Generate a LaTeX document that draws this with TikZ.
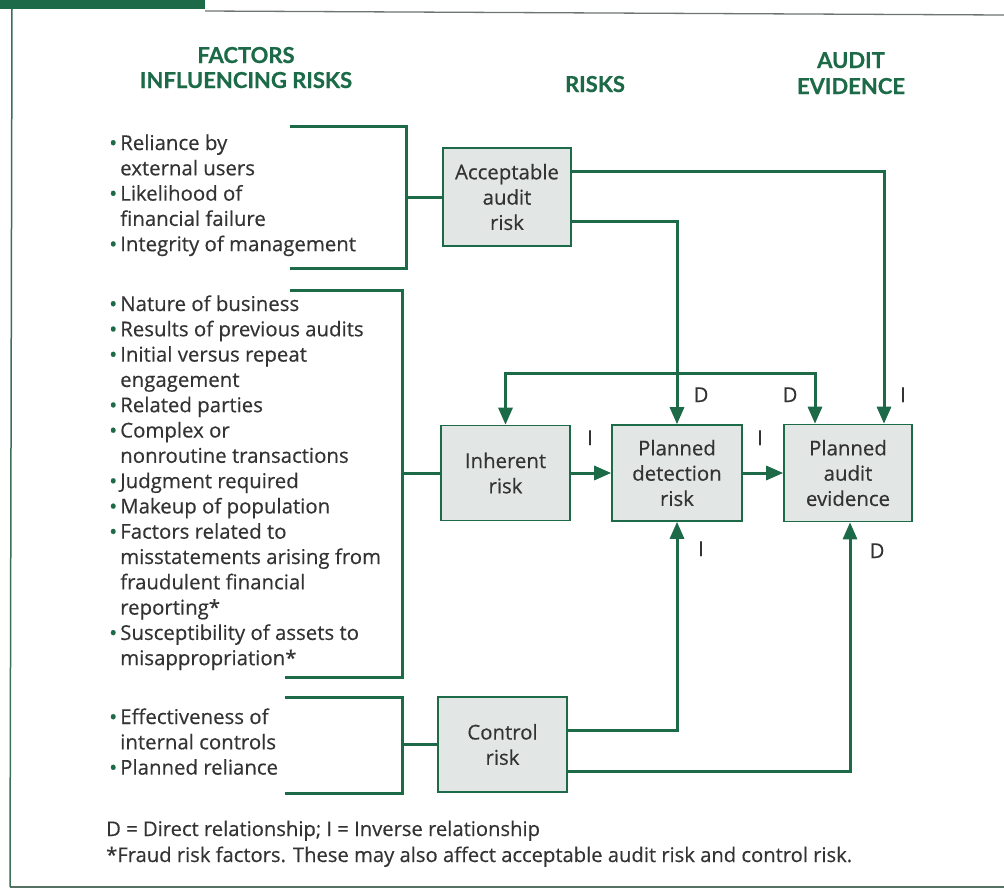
\documentclass[tikz,border=0pt]{standalone}
\usepackage{fontspec}
\setmainfont{Open Sans}[FakeBold=0.4]
\newfontfamily\headfont{Lato}[BoldFeatures={FakeBold=0.6}]
\usetikzlibrary{arrows.meta}

\definecolor{ink}{HTML}{333333}
\definecolor{dgreen}{HTML}{1C6A47}
\definecolor{boxfill}{HTML}{E2E7E5}
\definecolor{rulegray}{HTML}{6E7470}

\newcommand{\gdot}{\textcolor{dgreen}{\raisebox{-0.05ex}{\scalebox{1.05}{\textbullet}}}}
\newcommand{\bodysize}{\fontsize{20.4}{25.3}\selectfont}
\newcommand{\headsize}{\headfont\fontsize{22}{25}\selectfont\bfseries}

\begin{document}
\begin{tikzpicture}[x=1pt,y=-1pt,
  link/.style={draw=dgreen, line width=3pt},
  tip/.tip={Triangle[length=17pt,width=14pt]},
  arr/.style={link, -tip},
  riskbox/.style={draw=dgreen, line width=1.6pt, fill=boxfill, text=ink,
    align=center, inner sep=0pt, font=\bodysize},
  head/.style={text=dgreen, align=center, inner sep=0pt, font=\headsize, anchor=base},
  factors/.style={text=ink, inner sep=0pt, anchor=base west, font=\bodysize},
  rel/.style={text=ink, inner sep=0pt, anchor=base, font=\bodysize},
  note/.style={text=ink, inner sep=0pt, anchor=base west, font=\fontsize{20.2}{24}\selectfont}]

\useasboundingbox (0,0) rectangle (1004,892);

% page frame
\fill[dgreen] (0,0) rectangle (205,9);
\draw[rulegray, line width=1.3pt] (205,11) -- (1004,15);
\draw[dgreen!70!gray, line width=1.5pt] (12,9) -- (10,887);
\draw[rulegray!70!dgreen, line width=2pt] (10,887) -- (1004,887);

% column headings
\node[head] (hfac1) at (246,63) {FACTORS};
\node[head] (hfac2) at (246,88) {INFLUENCING RISKS};
\node[head] (hrisk) at (595,92) {RISKS};
\node[head] (haud1) at (851,68) {AUDIT};
\node[head] (haud2) at (851,94) {EVIDENCE};

% factor lists
\node[factors] (f1) at (109,150) {\begin{tabular}[t]{@{}l@{\hspace{3pt}}l@{}}
\gdot & Reliance by\\
 & external users\\
\gdot & Likelihood of\\
 & financial failure\\
\gdot & Integrity of management
\end{tabular}};

\node[factors] (f2) at (109,311) {\begin{tabular}[t]{@{}l@{\hspace{3pt}}l@{}}
\gdot & Nature of business\\
\gdot & Results of previous audits\\
\gdot & Initial versus repeat\\
 & engagement\\
\gdot & Related parties\\
\gdot & Complex or\\
 & nonroutine transactions\\
\gdot & Judgment required\\
\gdot & Makeup of population\\
\gdot & Factors related to\\
 & misstatements arising from\\
 & fraudulent financial\\
 & reporting*\\
\gdot & Susceptibility of assets to\\
 & misappropriation*
\end{tabular}};

\node[factors] (f3) at (109,724) {\begin{tabular}[t]{@{}l@{\hspace{3pt}}l@{}}
\gdot & Effectiveness of\\
 & internal controls\\
\gdot & Planned reliance
\end{tabular}};

% risk boxes
\node[riskbox, minimum width=128pt, minimum height=98pt] (acc) at (507,197) {Acceptable\\audit\\risk};
\node[riskbox, minimum width=129pt, minimum height=95pt] (inh) at (505.5,473) {Inherent\\risk};
\node[riskbox, minimum width=130pt, minimum height=96pt] (det) at (677,473) {Planned\\detection\\risk};
\node[riskbox, minimum width=128pt, minimum height=97pt] (evi) at (848,473) {Planned\\audit\\evidence};
\node[riskbox, minimum width=129pt, minimum height=95pt] (ctl) at (502.5,744.5) {Control\\risk};

% brackets gathering the factors
\coordinate (b1) at (406,197);
\coordinate (b2) at (402,473);
\coordinate (b3) at (402,744.5);
\draw[link] (290,126) -| (406,268) -- (290,268);
\draw[link] (b1) -- (acc.west);
\draw[link] (290,290) -| (402,677) -- (285,677);
\draw[link] (b2) -- (inh.west);
\draw[link] (285,697) -| (402,793) -- (285,793);
\draw[link] (b3) -- (ctl.west);

% relationships between the risks
\draw[arr] ([yshift=26pt]acc.east) -| ([xshift=36pt]evi.north);
\draw[arr] ([yshift=-24pt]acc.east) -| (det.north);
\draw[link, tip-tip] (inh.north) -- ++(0,-51) -| ([xshift=-33pt]evi.north);
\draw[arr] (inh.east) -- (det.west);
\draw[arr] (det.east) -- (evi.west);
\draw[arr] ([yshift=14.5pt]ctl.east) -| (det.south);
\draw[arr] ([yshift=-26.5pt]ctl.east) -| ([xshift=2pt]evi.south);

% relationship labels
\node[rel] (lD1) at (701,402) {D};
\node[rel] (lD2) at (790,402) {D};
\node[rel] (lI1) at (903,402) {I};
\node[rel] (lI2) at (590,445) {I};
\node[rel] (lI3) at (760,445) {I};
\node[rel] (lI4) at (701,556) {I};
\node[rel] (lD3) at (877,558) {D};

% key
\node[note] (key1) at (106,836) {D = Direct relationship; I = Inverse relationship};
\node[note] (key2) at (106,862) {*Fraud risk factors. These may also affect acceptable audit risk and control risk.};

\end{tikzpicture}
\end{document}
